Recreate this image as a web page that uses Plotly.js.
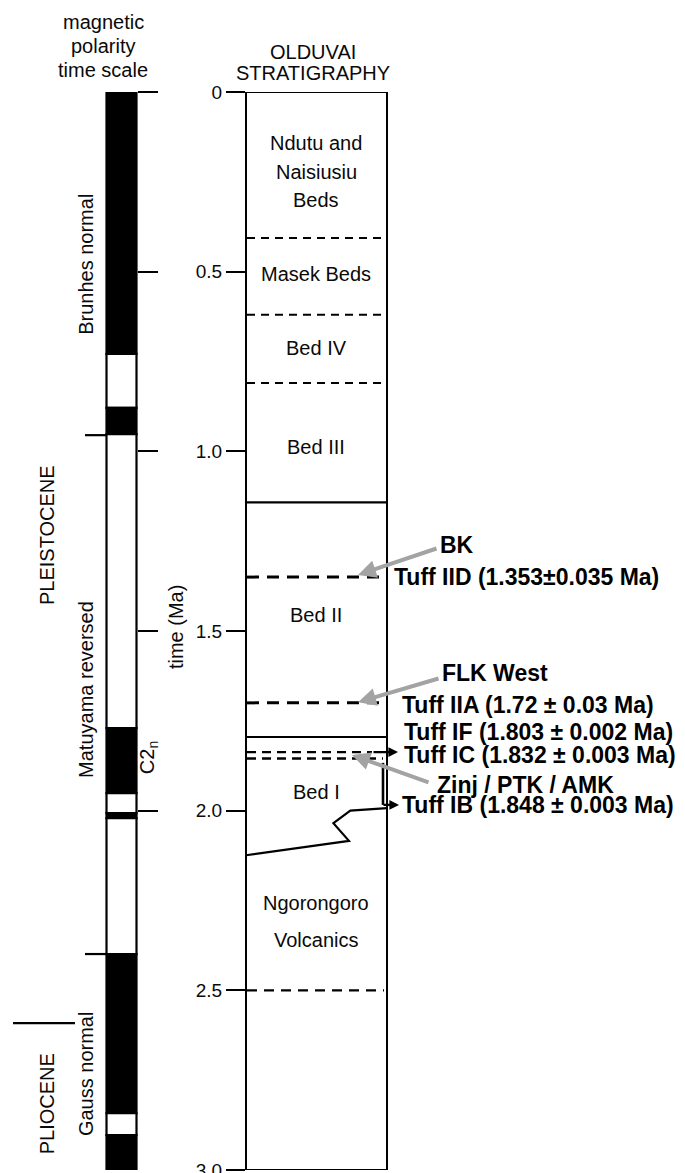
<!DOCTYPE html>
<html>
<head>
<meta charset="utf-8">
<script src="https://cdn.plot.ly/plotly-3.0.1.min.js"></script>
<style>html,body{margin:0;padding:0;background:#fff;}#chart{width:685px;height:1173px;}</style>
</head>
<body>
<div id="chart"></div>
<script>
// ---------------- DATA ----------------
const ageTicks = [0, 0.5, 1, 1.5, 2, 2.5, 3];
const ageTickText = ['0', '0.5', '1.0', '1.5', '2.0', '2.5', '3.0'];
const polarityTicks = [0, 0.5, 1, 1.5, 2];

// magnetic polarity column (Ma)
const chronTop  = [-0.012, 0.729, 0.879, 0.952, 1.770, 1.951, 2.007, 2.021, 2.399, 2.842, 2.903];
const chronBase = [0.729, 0.879, 0.952, 1.770, 1.951, 2.007, 2.021, 2.399, 2.842, 2.903, 3.01];
const chronPolarity = ['normal','reversed','normal','reversed','normal','reversed','normal','reversed','normal','reversed','normal'];

const chronNames = ['Brunhes normal', 'Matuyama reversed', 'Gauss normal'];
const chronLabelAges = [0.481, 1.664, 2.733];
const chronBoundaryAges = [0.955, 2.399];
const subchronName = 'C2<sub>n</sub>';
const subchronAge = 1.854;
const epochNames = ['PLEISTOCENE', 'PLIOCENE'];
const epochLabelAges = [1.233, 2.817];
const epochBoundaryAges = [2.591];

// Olduvai stratigraphy (Ma)
const thinDashedContacts = [0.406, 0.62, 0.81];
const solidContacts = [1.142, 1.795];
const tuffDashedContacts = [1.35, 1.70];
const bedIDashedContacts = [1.837, 1.855];
const volcanicDashedContacts = [2.50];
const zigzagAges = [2.124, 2.084, 2.035, 2.0, 1.993];
const zigzagFrac = [0, 0.73, 0.62, 0.74, 1];

const bedLabelLines = ['Ndutu and', 'Naisiusiu', 'Beds', 'Masek Beds', 'Bed IV', 'Bed III', 'Bed II', 'Bed I', 'Ngorongoro', 'Volcanics'];
const bedLabelAges = [0.142, 0.223, 0.301, 0.507, 0.712, 0.988, 1.456, 1.948, 2.257, 2.360];

const tuffLabels = ['Tuff IID (1.353±0.035 Ma)', 'Tuff IIA (1.72 ± 0.03 Ma)', 'Tuff IF (1.803 ± 0.002 Ma)', 'Tuff IC (1.832 ± 0.003 Ma)', 'Tuff IB (1.848 ± 0.003 Ma)'];
const tuffLabelAges = [1.350, 1.706, 1.781, 1.845, 1.984];

const siteNames = ['BK', 'FLK West', 'Zinj / PTK / AMK'];
const siteLabelAges = [1.261, 1.617, 1.929];
const siteArrowTailAges = [1.269, 1.631, 1.923];
const siteArrowTipAges = [1.344, 1.698, 1.845];

const headerPolarity = ['magnetic', 'polarity', 'time scale'];
const headerStrat = ['OLDUVAI', 'STRATIGRAPHY'];

// ---------------- LAYOUT CONSTANTS (pixels) ----------------
const W = 685, H = 1173, TOP = 92, BOT = 1170;
const POL_X = 121.5, POL_W = 30, POL_TICK_AXIS = 137;
const COL_L = 246, COL_R = 387;
const FONT = 'Arial, "Liberation Sans", Helvetica, sans-serif';
const INK = '#0a0a0a';
const paperY = py => (BOT - py) / (BOT - TOP);

// ---------------- TRACES ----------------
const polarityTrace = {
  type: 'bar',
  x: chronTop.map(() => POL_X),
  base: chronTop,
  y: chronTop.map((t, i) => chronBase[i] - t),
  width: POL_W,
  marker: {
    color: chronPolarity.map(p => p === 'normal' ? '#000' : '#fff'),
    line: {color: '#000', width: 2.2}
  },
  cliponaxis: false,
  hoverinfo: 'skip',
  showlegend: false
};

// ---------------- SHAPES ----------------
const shapes = [];
shapes.push({type:'rect', xref:'x', yref:'y', x0:COL_L, x1:COL_R, y0:ageTicks[0], y1:ageTicks[ageTicks.length-1], line:{color:'#000', width:2}, fillcolor:'rgba(0,0,0,0)', layer:'above'});
thinDashedContacts.forEach(a => shapes.push({type:'line', xref:'x', yref:'y', x0:COL_L+1, x1:COL_R-3, y0:a, y1:a, line:{color:'#000', width:2, dash:'8px,6px'}}));
solidContacts.forEach(a => shapes.push({type:'line', xref:'x', yref:'y', x0:COL_L, x1:COL_R, y0:a, y1:a, line:{color:'#000', width:2.2}}));
tuffDashedContacts.forEach(a => shapes.push({type:'line', xref:'x', yref:'y', x0:COL_L+1, x1:COL_R, y0:a, y1:a, line:{color:'#000', width:3, dash:'12px,8px'}}));
bedIDashedContacts.forEach((a, i) => shapes.push({type:'line', xref:'x', yref:'y', x0:COL_L+1, x1: i === 0 ? 372 : COL_R-4, y0:a, y1:a, line:{color:'#000', width:2.4, dash:'9px,6px'}}));
volcanicDashedContacts.forEach(a => shapes.push({type:'line', xref:'x', yref:'y', x0:COL_L+1, x1:COL_R-3, y0:a, y1:a, line:{color:'#000', width:2.2, dash:'10px,7px'}}));
shapes.push({type:'path', xref:'x', yref:'y',
  path: zigzagAges.map((a, i) => (i ? 'L' : 'M') + (COL_L + zigzagFrac[i]*(COL_R-COL_L)) + ',' + a).join(' '),
  line:{color:'#000', width:2.2}});
shapes.push({type:'line', xref:'x', yref:'y', x0:383, x1:383, y0:bedIDashedContacts[1]+0.012, y1:tuffLabelAges[4], line:{color:'#000', width:2.6}});
chronBoundaryAges.forEach(a => shapes.push({type:'line', xref:'x', yref:'y', x0:85, x1:106, y0:a, y1:a, line:{color:'#000', width:2.2}}));
epochBoundaryAges.forEach(a => shapes.push({type:'line', xref:'x', yref:'y', x0:13, x1:75, y0:a, y1:a, line:{color:'#000', width:2.2}}));

// ---------------- ANNOTATIONS ----------------
const ann = [];
const txt = (o) => Object.assign({showarrow:false, xref:'x', yref:'y', font:{family:FONT, size:20, color:INK}}, o);
headerPolarity.forEach((t, i) => ann.push(txt({text:t, x:103, yref:'paper', y:paperY([22, 46, 70][i]), xanchor:'center', yanchor:'middle'})));
headerStrat.forEach((t, i) => ann.push(txt({text:t, x:313, yref:'paper', y:paperY([52, 73][i]), xanchor:'center', yanchor:'middle'})));
bedLabelLines.forEach((t, i) => ann.push(txt({text:t, x:316, y:bedLabelAges[i], xanchor:'center', yanchor:'middle'})));
chronNames.forEach((t, i) => ann.push(txt({text:t, x:86, y:chronLabelAges[i], textangle:-90, xanchor:'center', yanchor:'middle'})));
epochNames.forEach((t, i) => ann.push(txt({text:t, x:47, y:epochLabelAges[i], textangle:-90, xanchor:'center', yanchor:'middle'})));
ann.push(txt({text:subchronName, x:148, y:subchronAge, textangle:-90, xanchor:'center', yanchor:'middle'}));
ann.push(txt({text:'time (Ma)', x:176, y:1.489, textangle:-90, xanchor:'center', yanchor:'middle'}));
const tuffX = [392, 400, 402, 402, 400];
tuffLabels.forEach((t, i) => ann.push(txt({text:t, x:tuffX[i], y:tuffLabelAges[i], xanchor:'left', yanchor:'middle', font:{family:FONT, size:23, color:'#000', weight:'bold'}})));
const siteX = [438, 440, 435];
const tailX = [438, 440, 430];
const tipX = [358, 358, 352];
siteNames.forEach((t, i) => {
  ann.push(txt({text:t, x:siteX[i], y:siteLabelAges[i], xanchor:'left', yanchor:'middle', font:{family:FONT, size:23, color:'#000', weight:'bold'}}));
  ann.push({text:'', showarrow:true, xref:'x', yref:'y', axref:'x', ayref:'y', x:tipX[i], y:siteArrowTipAges[i], ax:tailX[i], ay:siteArrowTailAges[i], arrowcolor:'#a3a3a3', arrowwidth:4, arrowhead:2, arrowsize:0.9, standoff:0, startstandoff:0});
});
ann.push({text:'', showarrow:true, xref:'x', yref:'y', axref:'x', ayref:'y', x:398, y:bedIDashedContacts[0], ax:372, ay:bedIDashedContacts[0], arrowcolor:'#000', arrowwidth:2.4, arrowhead:2, arrowsize:0.8});
ann.push({text:'', showarrow:true, xref:'x', yref:'y', axref:'x', ayref:'y', x:399, y:tuffLabelAges[4], ax:382, ay:tuffLabelAges[4], arrowcolor:'#000', arrowwidth:2.4, arrowhead:2, arrowsize:0.8});

// ---------------- LAYOUT ----------------
const layout = {
  width: W, height: H,
  margin: {l:0, r:0, t:TOP, b:H-BOT, pad:0},
  paper_bgcolor: '#fff', plot_bgcolor: '#fff',
  showlegend: false,
  font: {family: FONT, color: INK},
  xaxis: {range:[0, W], visible:false, fixedrange:true},
  yaxis: {
    range:[3, 0], anchor:'free', position: COL_L / W, side:'left',
    showline:true, linecolor:'#000', linewidth:2,
    ticks:'outside', ticklen:19, tickwidth:2.2, tickcolor:'#000',
    tickvals: ageTicks, ticktext: ageTickText, ticklabeloverflow:'allow',
    tickfont:{family:FONT, size:19, color:INK},
    showgrid:false, zeroline:false, fixedrange:true
  },
  yaxis2: {
    range:[3, 0], overlaying:'y', anchor:'free', position: POL_TICK_AXIS / W, side:'right',
    showline:false, ticks:'outside', ticklen:20, tickwidth:2.2, tickcolor:'#000',
    tickvals: polarityTicks, showticklabels:false, showgrid:false, zeroline:false, fixedrange:true
  },
  shapes: shapes,
  annotations: ann
};

const tickTrace = {type:'scatter', x:[POL_X], y:[0], yaxis:'y2', mode:'markers', marker:{opacity:0}, hoverinfo:'skip', showlegend:false};

Plotly.newPlot('chart', [polarityTrace, tickTrace], layout, {displayModeBar:false, staticPlot:true});
</script>
</body>
</html>
